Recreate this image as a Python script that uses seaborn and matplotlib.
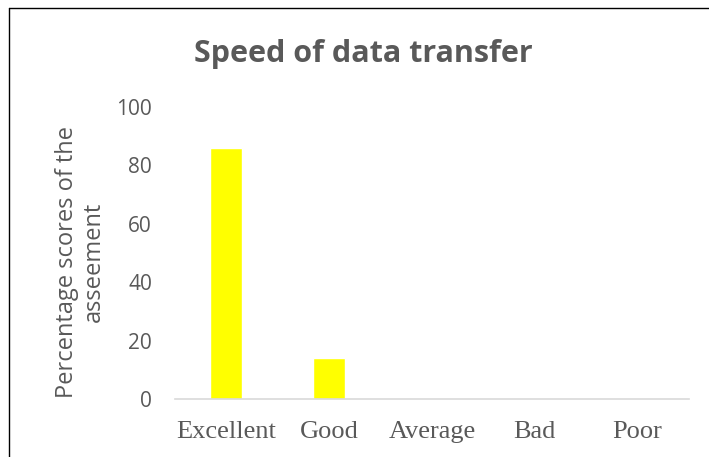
import matplotlib
matplotlib.use("Agg")
import matplotlib.pyplot as plt
import seaborn as sns
import pandas as pd
from matplotlib.lines import Line2D

categories = ["Excellent", "Good", "Average", "Bad", "Poor"]
values = [86, 14, 0, 0, 0]
yticks = [0, 20, 40, 60, 80, 100]

sns.set_theme(style="white")
plt.rcParams['font.family'] = ['Open Sans', 'DejaVu Sans']

df = pd.DataFrame({"category": categories, "value": values})

fig = plt.figure(figsize=(7.09, 4.57), dpi=100)
ax = fig.add_axes([175/709, 1-399/457, (689-175)/709, (399-107)/457])
sns.barplot(data=df, x="category", y="value", ax=ax, color="#FFFF00",
            saturation=1, width=0.31, order=categories)
ax.set_ylim(0, 100)
ax.set_xlim(-0.5, 4.5)
ax.set_yticks(yticks)
ax.set_yticklabels([str(t) for t in yticks], color="#595959", fontsize=15)
ax.set_xticks(range(len(categories)))
ax.set_xticklabels(categories, family=["Liberation Serif"], fontsize=19, color="#595959")
ax.tick_params(axis="both", length=0)
ax.tick_params(axis="x", pad=16)
ax.tick_params(axis="y", pad=16.5)
for s in ["top", "right", "left"]:
    ax.spines[s].set_visible(False)
ax.spines["bottom"].set_color("#D9D9D9")
ax.spines["bottom"].set_linewidth(1.2)
ax.set_xlabel("")
ax.set_ylabel("Percentage scores of the\nasseement", color="#595959", fontsize=17)
ax.yaxis.set_label_coords(-0.134, 0.469)
ax.grid(False)

fig.text(363/709, 1-62/457, "Speed of data transfer", ha="center", va="baseline",
         fontsize=22, fontweight="bold", color="#595959")

fig.add_artist(Line2D([9/709, 9/709], [0, 1-7.5/457], color="black", lw=1, transform=fig.transFigure))
fig.add_artist(Line2D([9/709, 1], [1-7.5/457, 1-7.5/457], color="black", lw=1, transform=fig.transFigure))

fig.savefig("out.png", dpi=100)
